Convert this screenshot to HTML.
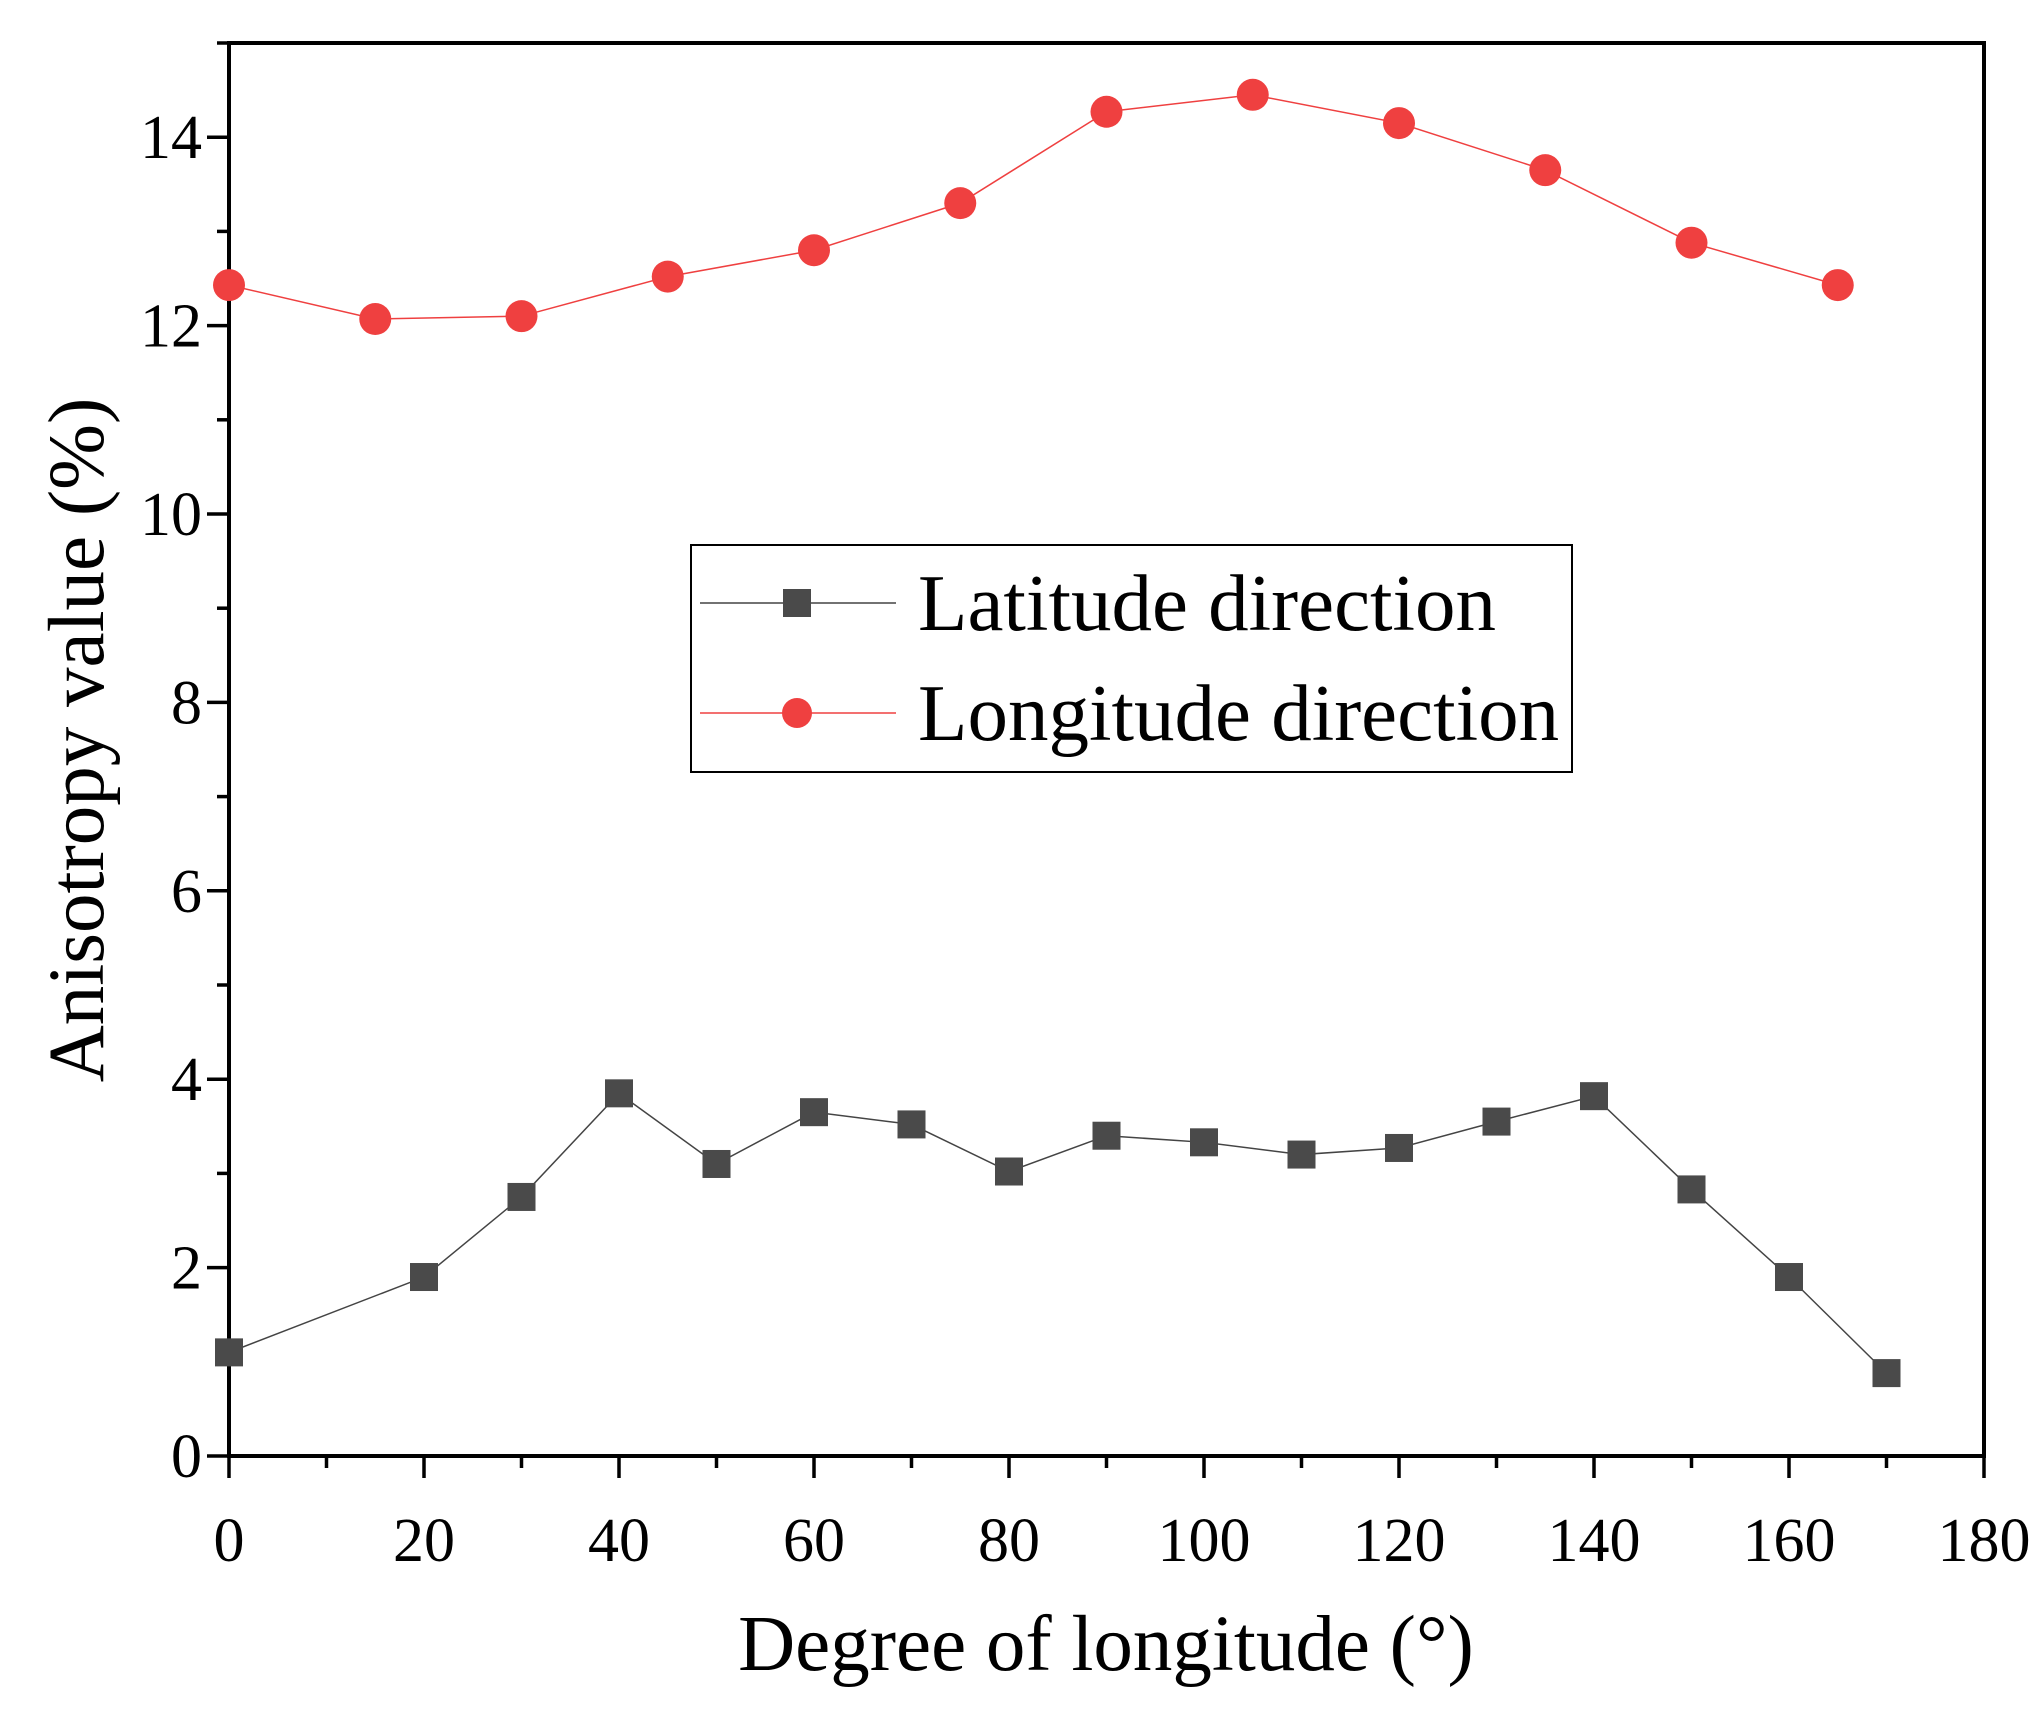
<!DOCTYPE html>
<html><head><meta charset="utf-8"><style>
body{margin:0;background:#fff;}
svg text{font-family:"Liberation Serif",serif;fill:#000;}
</style></head><body>
<svg id="chart" width="2041" height="1708" xmlns="http://www.w3.org/2000/svg">
<g id="axes"></g>
<g id="series"></g>
<text x="1106" y="1670" font-size="79" text-anchor="middle">Degree of longitude (°)</text>
<text transform="translate(103,740) rotate(-90)" font-size="79" text-anchor="middle">Anisotropy value (%)</text>
<g>
<rect x="691" y="545" width="881" height="227" fill="#fff" stroke="#000" stroke-width="2"/>
<g>
<line x1="700" y1="603" x2="896" y2="603" stroke="#444" stroke-width="1.5"/>
<rect x="783" y="589" width="28" height="28" fill="#4a4a4a"/>
<text x="918" y="630" font-size="81">Latitude direction</text>
</g>
<g>
<line x1="700" y1="713" x2="896" y2="713" stroke="#ef4040" stroke-width="1.5"/>
<circle cx="797" cy="713" r="15" fill="#ef4040"/>
<text x="918" y="740" font-size="81">Longitude direction</text>
</g>
</g>
</svg>
<script>
const latX = [0,20,30,40,50,60,70,80,90,100,110,120,130,140,150,160,170];
const latY = [1.1,1.9,2.75,3.85,3.1,3.65,3.52,3.02,3.4,3.33,3.2,3.27,3.55,3.82,2.83,1.9,0.88];
const lonX = [0,15,30,45,60,75,90,105,120,135,150,165];
const lonY = [12.43,12.07,12.1,12.52,12.8,13.3,14.27,14.45,14.15,13.65,12.88,12.43];
const xTicks = [0,20,40,60,80,100,120,140,160,180];
const yTicks = [0,2,4,6,8,10,12,14];

const L=229,R=1984,T=43,B=1456;
const xs=v=>L+(v/180)*(R-L);
const ys=v=>B-(v/15)*(B-T);
const NS="http://www.w3.org/2000/svg";
function mk(tag,attrs,parent){const e=document.createElementNS(NS,tag);for(const k in attrs)e.setAttribute(k,attrs[k]);parent.appendChild(e);return e;}
const ax=document.getElementById('axes');
const frame=mk('rect',{x:L,y:T,width:R-L,height:B-T,fill:'none',stroke:'#000','stroke-width':4},ax);


for(let v=0;v<=180;v+=10){
  const major=v%20===0;
  const t=mk('line',{x1:xs(v),x2:xs(v),y1:B,y2:B+(major?22:12),stroke:'#000','stroke-width':3.5},ax);
  
  
}
xTicks.forEach(v=>{
  const t=mk('text',{x:xs(v),y:1561,'font-size':62,'text-anchor':'middle'},ax);
  t.textContent=v;
  
  
});
for(let v=0;v<=15;v+=1){
  const major=v%2===0;
  const t=mk('line',{x1:L,x2:L-(major?22:12),y1:ys(v),y2:ys(v),stroke:'#000','stroke-width':3.5},ax);
  
  
}
yTicks.forEach(v=>{
  const t=mk('text',{x:202,y:ys(v)+21,'font-size':62,'text-anchor':'end'},ax);
  t.textContent=v;
  
  
});
const sg=document.getElementById('series');
const p1=mk('polyline',{points:latX.map((x,i)=>xs(x)+','+ys(latY[i])).join(' '),fill:'none',stroke:'#444','stroke-width':1.5},sg);


latX.forEach((x,i)=>{
  const r=mk('rect',{x:xs(x)-14,y:ys(latY[i])-14,width:28,height:28,fill:'#4a4a4a'},sg);
  
  
});
const p2=mk('polyline',{points:lonX.map((x,i)=>xs(x)+','+ys(lonY[i])).join(' '),fill:'none',stroke:'#ef4040','stroke-width':1.5},sg);


lonX.forEach((x,i)=>{
  const c=mk('circle',{cx:xs(x),cy:ys(lonY[i]),r:16,fill:'#ef4040'},sg);
  
  
});
</script>
</body></html>
